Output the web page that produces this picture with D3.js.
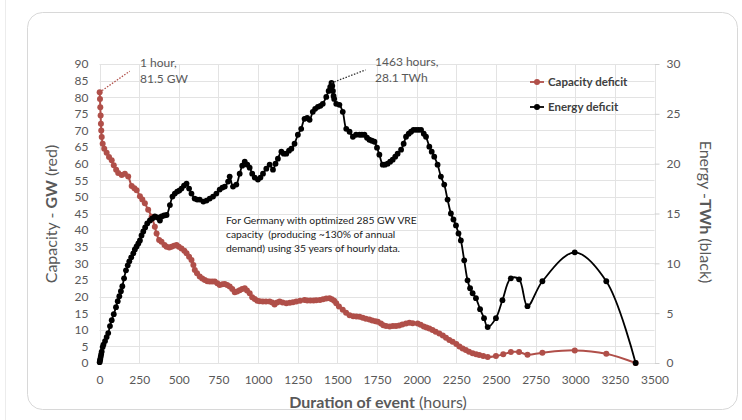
<!DOCTYPE html>
<html><head><meta charset="utf-8">
<script src="https://cdn.jsdelivr.net/npm/d3@7"></script>
<style>
html,body{margin:0;padding:0;background:#fff;}
svg{display:block;font-family:Lato,"Open Sans",sans-serif;}
</style></head>
<body><svg id="chart" width="742" height="420"></svg>
<script>
// ---------- data ----------
const capHours = [1,3,5,7,9,11,14,20,30,45,60,77,90,105,118,140,160,181,203,220,234,255,270,286,307,329,349,360,376,391,410,423,440,454,470,486,500,517,535,549,565,580,592,601,615,632,648,664,680,695,711,727,743,758,775,790,805,821,837,853,868,884,900,916,930,947,963,979,995,1010,1030,1050,1073,1090,1104,1120,1136,1155,1178,1200,1220,1241,1265,1293,1310,1330,1350,1367,1390,1410,1430,1451,1465,1480,1493,1510,1534,1555,1577,1600,1620,1640,1660,1680,1702,1720,1740,1755,1775,1790,1807,1830,1850,1870,1890,1910,1933,1954,1975,2006,2025,2045,2062,2080,2100,2120,2143,2165,2185,2206,2227,2250,2270,2290,2310,2330,2353,2375,2395,2420,2448,2500,2546,2594,2646,2699,2793,2997,3196,3381];
const capGW = [81.5,79.5,77,74.5,72,70,68,66,64.5,63.3,62,61,59.5,58.2,57.2,56.6,57.0,56.1,53.3,52.6,52.0,50.2,49.2,48.1,46.1,44.0,41.0,39.0,37.0,36.5,35.5,35.0,34.8,35.0,35.3,35.5,35.0,34.5,33.8,33.0,32.0,31.0,29.5,28.0,27.0,26.0,25.4,25.0,24.6,24.5,24.5,24.5,24.0,23.5,23.7,23.8,23.5,23.0,22.3,21.3,21.5,21.9,22.3,22.5,21.8,21.0,19.8,19.3,18.7,18.6,18.5,18.5,18.5,18.2,17.6,18.2,18.5,18.2,18.0,18.1,18.3,18.5,18.7,19.0,18.8,18.8,18.8,18.9,19.0,19.2,19.4,19.5,19.2,18.7,18.0,17.0,16.0,15.1,14.4,14.1,14.0,13.9,13.6,13.3,13.1,12.8,12.6,12.4,11.9,11.4,11.1,11.0,11.1,11.1,11.3,11.6,11.9,12.1,12.0,11.9,11.5,11.0,10.7,10.4,9.9,9.4,8.9,8.3,7.6,6.9,6.4,5.7,5.0,4.4,3.9,3.4,2.9,2.6,2.4,2.1,1.8,2.1,2.6,3.3,3.3,2.5,3.1,3.8,2.8,0];

const energyHours = [1,3,5,8,11,14,20,25,35,45,55,66,77,90,104,115,125,135,144,155,167,178,188,200,213,223,234,245,255,265,276,288,301,318,333,349,365,381,391,407,423,444,460,475,490,503,517,533,549,565,580,600,616,632,655,675,695,716,737,758,775,790,811,821,842,863,884,900,916,932,947,963,979,999,1015,1031,1052,1073,1094,1110,1125,1147,1162,1178,1195,1210,1230,1251,1272,1293,1310,1325,1345,1360,1377,1393,1408,1430,1445,1455,1463,1468,1472,1476,1480,1493,1513,1534,1556,1577,1598,1618,1640,1655,1671,1687,1702,1718,1734,1750,1765,1786,1800,1817,1833,1849,1865,1880,1902,1918,1933,1950,1965,1980,1996,2012,2028,2045,2059,2080,2095,2111,2132,2153,2174,2195,2216,2232,2248,2264,2279,2300,2321,2337,2353,2374,2400,2425,2448,2500,2541,2594,2646,2699,2793,2997,3196,3381];
const energyTWh = [0.08,0.25,0.4,0.65,0.9,1.15,1.6,1.85,2.2,2.6,3.0,3.7,4.3,4.9,5.6,6.2,6.7,7.2,7.7,8.5,9.3,9.8,10.2,10.6,11.0,11.4,11.7,12.0,12.3,12.8,13.2,13.6,14.0,14.3,14.5,14.7,14.6,14.3,14.7,14.8,14.85,15.85,16.7,17.0,17.2,17.3,17.5,17.8,18.0,17.5,17.0,16.5,16.4,16.4,16.2,16.3,16.5,16.7,17.0,17.4,17.6,17.7,18.2,18.7,17.7,17.9,19.0,19.8,20.2,19.9,19.6,19.0,18.6,18.4,18.6,19.0,19.5,19.9,19.4,20.0,20.5,21.2,21.0,21.0,21.3,21.5,22.0,22.9,23.5,24.5,24.6,24.4,25.2,25.5,25.7,25.8,26.0,26.7,27.3,27.7,28.1,27.8,27.3,26.8,26.5,26.0,25.9,25.2,23.5,23.2,22.7,22.9,22.9,22.9,22.9,22.6,22.4,22.3,22.2,21.6,20.9,19.9,19.9,20.0,20.2,20.4,20.7,21.0,21.4,22.0,22.7,23.0,23.2,23.4,23.4,23.4,23.4,23.0,22.7,21.7,21.2,20.7,19.9,18.7,17.9,16.4,15.0,14.4,13.8,13.0,12.3,10.3,8.3,7.5,7.0,6.5,5.4,4.5,3.6,4.5,6.3,8.5,8.4,5.7,8.2,11.1,8.2,0];

const xTicks = [0,250,500,750,1000,1250,1500,1750,2000,2250,2500,2750,3000,3250,3500];
const gwTicks = [0,5,10,15,20,25,30,35,40,45,50,55,60,65,70,75,80,85,90];
const twhTicks = [0,5,10,15,20,25,30];
const seriesNames = ["Capacity deficit","Energy deficit"];
const noteLines = ["For Germany with optimized 285 GW VRE","capacity  (producing ~130% of annual","demand) using 35 years of hourly data."];

// ---------- drawing ----------
const svg = d3.select("#chart");
const L = 99.5, R = 654.5, T = 64, B = 363;
const x = d3.scaleLinear().domain([0,3500]).range([L,R]);
const yL = d3.scaleLinear().domain([0,90]).range([B,T]);
const yR = d3.scaleLinear().domain([0,30]).range([B,T]);
const RED = "#b04f49", BLK = "#000", TXT = "#595959", GRID = "#e3e3e3";

svg.append("line").attr("x1",5.5).attr("x2",5.5).attr("y1",0).attr("y2",420).attr("stroke","#ececec");
svg.append("rect").attr("x",27.5).attr("y",12.5).attr("width",710).attr("height",397).attr("rx",15)
  .attr("fill","#fff").attr("stroke","#d8d8d8");

// grid
svg.append("g").selectAll("line").data(gwTicks).join("line")
  .attr("x1",L).attr("x2",R).attr("y1",d=>Math.round(yL(d))+0.5).attr("y2",d=>Math.round(yL(d))+0.5)
  .attr("stroke",GRID);
svg.append("g").selectAll("line").data(xTicks).join("line")
  .attr("y1",T).attr("y2",B).attr("x1",d=>Math.round(x(d))+0.5).attr("x2",d=>Math.round(x(d))+0.5)
  .attr("stroke",GRID);

// axes
function styleAxis(g){ g.select(".domain").remove(); g.selectAll("text").attr("fill",TXT).style("font-size","12px").style("font-family","Lato,sans-serif"); }
svg.append("g").attr("transform",`translate(${L},0)`)
  .call(d3.axisLeft(yL).tickValues(gwTicks).tickSize(0).tickPadding(11)).call(styleAxis);
svg.append("g").attr("transform",`translate(0,${B})`)
  .call(d3.axisBottom(x).tickValues(xTicks).tickFormat(d3.format("d")).tickSize(0).tickPadding(12)).call(styleAxis);
svg.append("g").attr("transform",`translate(${R},0)`)
  .call(d3.axisRight(yR).tickValues(twhTicks).tickSize(5).tickPadding(7)).call(styleAxis)
  .call(g=>g.selectAll(".tick line").attr("stroke","#d0d0d0"));

// axis titles
const lt = svg.append("text").attr("transform","translate(57,214) rotate(-90)").attr("text-anchor","middle")
  .attr("fill",TXT).style("font-size","16px");
lt.append("tspan").text("Capacity - ");
lt.append("tspan").attr("font-weight","bold").text("GW");
lt.append("tspan").text(" (red)");
const rt = svg.append("text").attr("transform","translate(700,212) rotate(90)").attr("text-anchor","middle")
  .attr("fill",TXT).style("font-size","16px");
rt.append("tspan").text("Energy -");
rt.append("tspan").attr("font-weight","bold").text("TWh");
rt.append("tspan").text(" (black)");
const bt = svg.append("text").attr("x",378).attr("y",408).attr("text-anchor","middle").attr("fill",TXT).style("font-size","16px");
bt.append("tspan").attr("font-weight","bold").text("Duration of event");
bt.append("tspan").text(" (hours)");

// series
const capData = capHours.map((h,i)=>[h,capGW[i]]);
const enData = energyHours.map((h,i)=>[h,energyTWh[i]]);
const curve = d3.curveCatmullRom.alpha(0.5);
svg.append("path").datum(capData).attr("fill","none").attr("stroke",RED).attr("stroke-width",2)
  .attr("d",d3.line().x(d=>x(d[0])).y(d=>yL(d[1])).curve(curve));
svg.append("g").selectAll("circle").data(capData).join("circle")
  .attr("cx",d=>x(d[0])).attr("cy",d=>yL(d[1])).attr("r",3).attr("fill",RED);
svg.append("path").datum(enData).attr("fill","none").attr("stroke",BLK).attr("stroke-width",1.8)
  .attr("d",d3.line().x(d=>x(d[0])).y(d=>yR(d[1])).curve(curve));
svg.append("g").selectAll("circle").data(enData).join("circle")
  .attr("cx",d=>x(d[0])).attr("cy",d=>yR(d[1])).attr("r",2.9).attr("fill",BLK);

// annotations
const p1 = [x(capHours[0]), yL(capGW[0])];
svg.append("line").attr("x1",p1[0]).attr("y1",p1[1]).attr("x2",p1[0]+30).attr("y2",p1[1]-21)
  .attr("stroke",RED).attr("stroke-width",1.3).attr("stroke-dasharray","1.5,1.5");
const a1 = svg.append("text").attr("fill",TXT).style("font-size","12px");
a1.append("tspan").attr("x",140).attr("y",67).text("1 hour,");
a1.append("tspan").attr("x",140).attr("y",83).text("81.5 GW");
const pk = energyTWh.indexOf(d3.max(energyTWh));
const p2 = [x(energyHours[pk]), yR(energyTWh[pk])];
svg.append("line").attr("x1",p2[0]).attr("y1",p2[1]).attr("x2",p2[0]+34).attr("y2",p2[1]-13)
  .attr("stroke","#333").attr("stroke-width",1.3).attr("stroke-dasharray","1.5,1.5");
const a2 = svg.append("text").attr("fill",TXT).style("font-size","12px");
a2.append("tspan").attr("x",375).attr("y",66).text("1463 hours,");
a2.append("tspan").attr("x",375).attr("y",82).text("28.1 TWh");

svg.append("g").selectAll("text").data(noteLines).join("text")
  .attr("x",226).attr("y",(d,i)=>224+i*14).attr("fill","#222").style("font-size","10.3px")
  .style("white-space","pre").attr("xml:space","preserve").text(d=>d);

// legend
const leg = svg.append("g").selectAll("g").data(seriesNames).join("g")
  .attr("transform",(d,i)=>`translate(537,${82+i*25})`);
leg.append("line").attr("x1",-7).attr("x2",7).attr("stroke",(d,i)=>i?BLK:RED).attr("stroke-width",1.8);
leg.append("circle").attr("r",3).attr("fill",(d,i)=>i?BLK:RED);
leg.append("text").attr("x",11).attr("dy","0.35em").attr("fill","#404040").attr("font-weight","bold")
  .style("font-size","11.5px").text(d=>d);
</script></body></html>
